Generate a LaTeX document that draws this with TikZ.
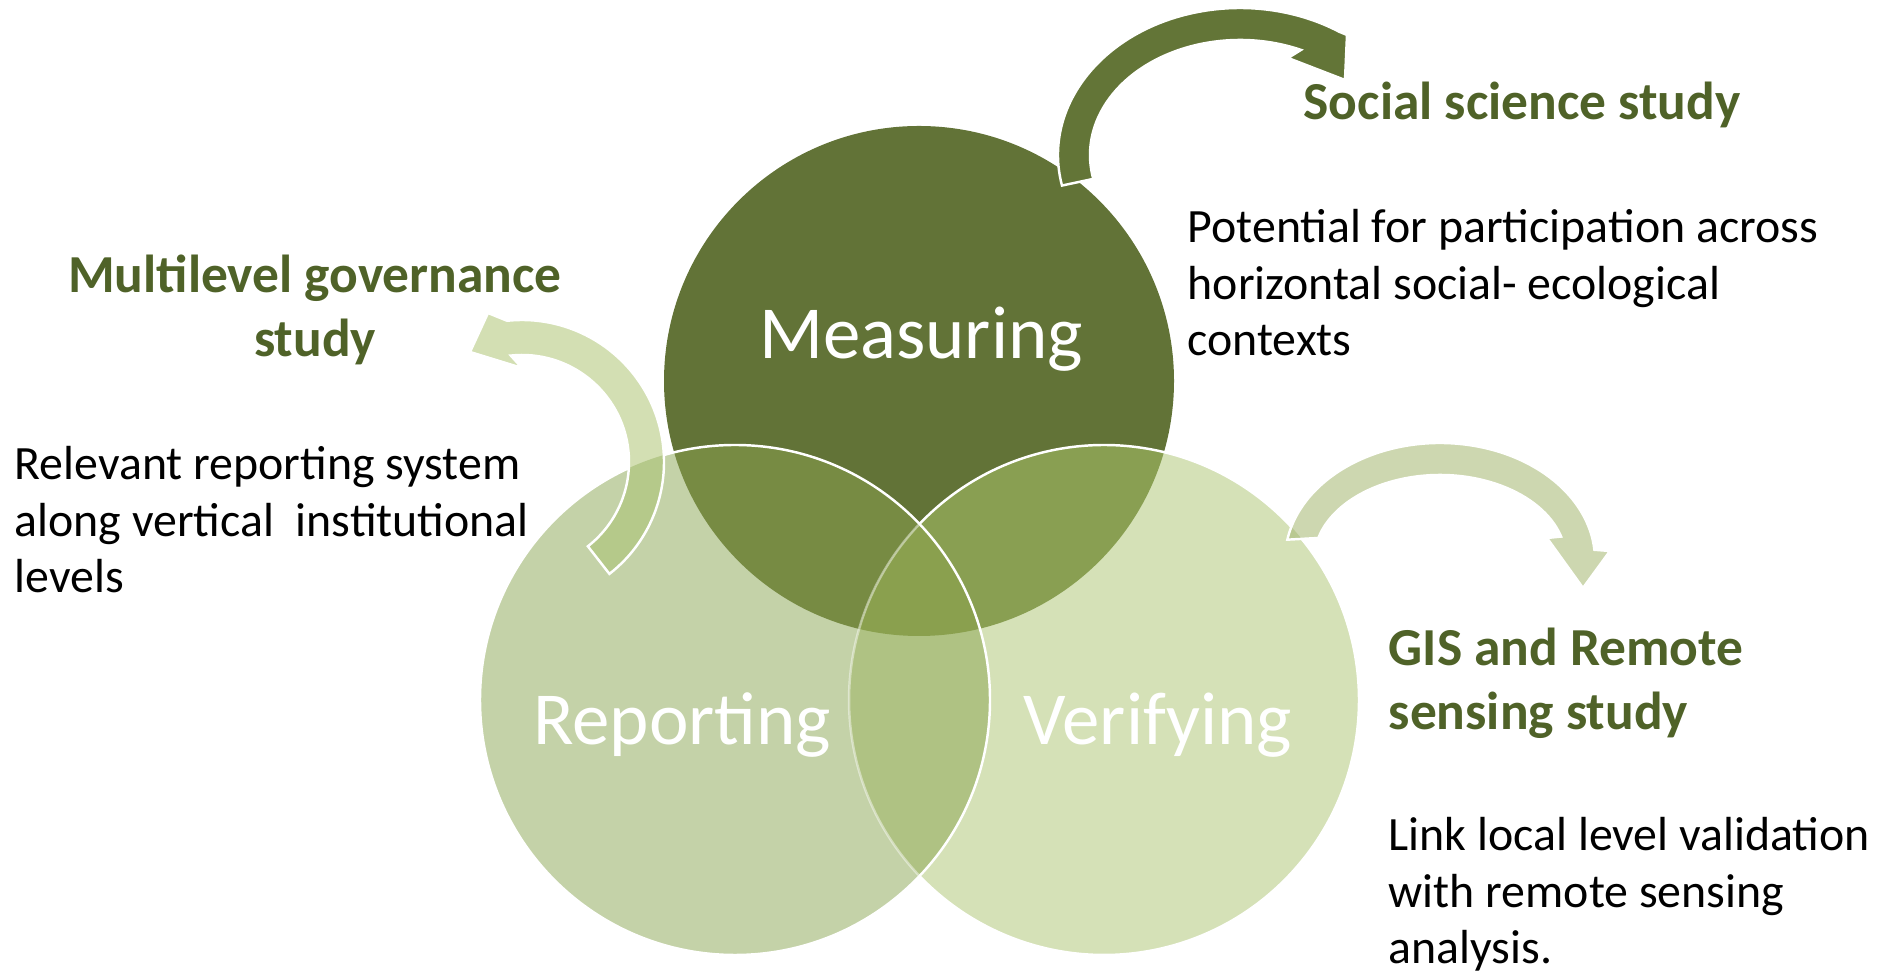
\documentclass[tikz,border=0pt]{standalone}
\usepackage{fontspec}
\setmainfont{Carlito}
\usetikzlibrary{positioning}

\definecolor{measurecol}{RGB}{98,115,55}
\definecolor{reportcol}{RGB}{196,210,168}
\definecolor{verifycol}{RGB}{213,225,183}
\definecolor{mrcol}{RGB}{119,139,67}
\definecolor{mvcol}{RGB}{137,159,82}
\definecolor{rvcol}{RGB}{175,194,131}
\definecolor{mrvcol}{RGB}{138,160,78}
\definecolor{titlecol}{RGB}{79,98,40}
\definecolor{arrowdark}{RGB}{99,117,55}
\definecolor{arrowlight}{RGB}{211,223,179}
\definecolor{arrowlightover}{RGB}{181,201,138}
\definecolor{arrowpale}{RGB}{205,215,176}
\definecolor{arrowpaleover}{RGB}{185,201,145}

\tikzset{
  ring/.style={white, line width=0.7pt},
  circlelabel/.style={text=white, inner sep=0, anchor=base,
    font=\fontsize{21.3}{25}\selectfont},
  studytitle/.style={text=titlecol, inner sep=0,
    font=\fontsize{15.2}{18.2}\selectfont\bfseries},
  studynote/.style={text=black, inner sep=0, align=left, anchor=base west,
    font=\fontsize{13.6}{16.2}\selectfont}
}

\begin{document}
\begin{tikzpicture}[x=0.01cm, y=0.01cm]
\useasboundingbox (0,0) rectangle (1878,976);
\coordinate (mc) at (919,595);
\coordinate (rc) at (735,276);
\coordinate (vc) at (1104,276);
% the three circles
\fill[measurecol] (mc) circle[radius=255];
\fill[verifycol] (vc) circle[radius=255];
\fill[reportcol] (rc) circle[radius=255];
\begin{scope}
 \clip (mc) circle[radius=255];
 \fill[mrcol] (rc) circle[radius=255];
 \fill[mvcol] (vc) circle[radius=255];
\end{scope}
\begin{scope}
 \clip (rc) circle[radius=255];
 \fill[rvcol] (vc) circle[radius=255];
 \clip (mc) circle[radius=255];
 \fill[mrvcol] (vc) circle[radius=255];
\end{scope}
\draw[ring] ([shift={(136.4:255)}]vc) arc[start angle=136.4, end angle=-136.4, radius=255];
\draw[ring, opacity=.45] ([shift={(136.4:255)}]vc) arc[start angle=136.4, end angle=223.6, radius=255];
\draw[ring] (rc) circle[radius=255];

% curved arrows
\coordinate (a1c) at (1240,821);
\coordinate (a2c) at (522,514);
\coordinate (a3c) at (1440,416);
\def\arrowone{([shift={(192:182 and 147)}]a1c) arc[start angle=192, end angle=57, x radius=182, y radius=147]
  -- (1347,941) -- (1345,896) -- (1288,918)
  -- ([shift={(66:150 and 115)}]a1c) arc[start angle=66, end angle=192, x radius=150, y radius=115] -- cycle}
\def\arrowtwo{([shift={(-52:142)}]a2c) arc[start angle=-52, end angle=96, radius=142]
  -- (488,663) -- (470,624) -- (522,608)
  -- ([shift={(96:107)}]a2c) arc[start angle=96, end angle=-52, radius=107] -- cycle}
\def\arrowthree{([shift={(170:155 and 117)}]a3c) arc[start angle=170, end angle=5, x radius=155, y radius=117]
  -- (1610,425) -- (1583,388) -- (1547,438)
  -- ([shift={(16:126 and 85)}]a3c) arc[start angle=16, end angle=165, x radius=126, y radius=85] -- cycle}
\fill[arrowdark] \arrowone;
\draw[ring] \arrowone;
\fill[arrowlight] \arrowtwo;
\begin{scope}
 \clip (rc) circle[radius=255];
 \fill[arrowlightover] \arrowtwo;
\end{scope}
\draw[ring] \arrowtwo;
\fill[arrowpale] \arrowthree;
\begin{scope}
 \clip (vc) circle[radius=255];
 \fill[arrowpaleover] \arrowthree;
\end{scope}
\draw[ring] \arrowthree;

% circle labels
\node[circlelabel] (measuring) at (921,617) {Measuring};
\node[circlelabel] (reporting) at (682,231) {Reporting};
\node[circlelabel] (verifying) at (1158,231) {Verifying};

% study titles and notes (base = last line)
\node[studytitle, anchor=base west] (social) at (1303,856) {Social science study};
\node[studynote] (socialnote) at (1187,620) {Potential for participation across\\horizontal social- ecological\\contexts};
\node[studytitle, align=center, anchor=base] (multilevel) at (315,619) {Multilevel governance\\study};
\node[studynote] (multinote) at (14,383) {Relevant reporting system\\along vertical~ institutional\\levels};
\node[studytitle, align=left, anchor=base west] (gis) at (1388,246) {GIS and Remote\\sensing study};
\node[studynote] (gisnote) at (1388,12) {Link local level validation\\with remote sensing\\analysis.};
\end{tikzpicture}
\end{document}
